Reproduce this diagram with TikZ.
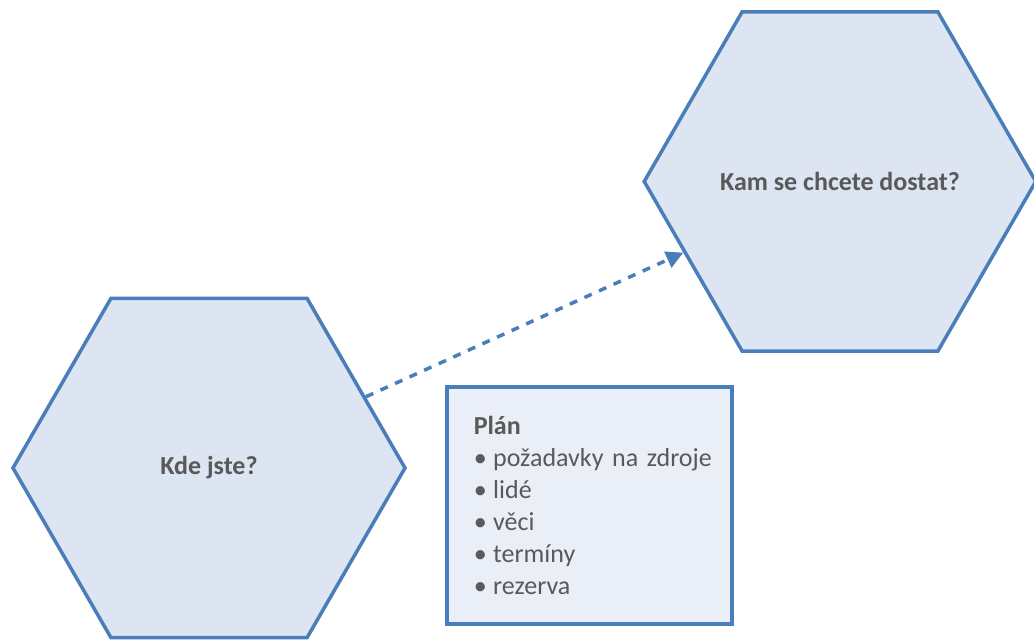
\documentclass[tikz,border=0pt]{standalone}
\usepackage{fontspec}
\setmainfont{Carlito}
\usetikzlibrary{shapes.geometric,arrows.meta}
\definecolor{edgeblue}{HTML}{4A7EBB}
\definecolor{hexfill}{HTML}{DCE5F1}
\definecolor{boxfill}{HTML}{EAEFF7}
\definecolor{txtgrey}{HTML}{595959}
\newcommand{\blt}[1]{\mbox{•\hspace{0.25em}#1}}
\tikzset{
  hexnode/.style={regular polygon, regular polygon sides=6, draw=edgeblue, fill=hexfill,
    line width=3.5pt, inner sep=0pt, text=txtgrey, font=\fontsize{26}{32}\selectfont\bfseries},
  planbox/.style={draw=edgeblue, fill=boxfill, line width=3.5pt, anchor=north west,
    minimum width=285pt, minimum height=237pt, text width=231pt, inner xsep=27pt,
    inner ysep=0pt, align=left, text=txtgrey, font=\fontsize{26}{32}\selectfont}, 
  flow/.style={draw=edgeblue, line width=3.5pt, dash pattern=on 8pt off 8pt,
    -{Triangle[length=17pt,width=17pt]}}
}
\begin{document}
\begin{tikzpicture}[x=1pt,y=-1pt]
\useasboundingbox (0,0) rectangle (1034,640);
\node[hexnode, minimum size=392pt] (here) at (209,468) {Kde jste?};
\node[hexnode, minimum size=386pt] (goal) at (840,181.5) {Kam se chcete dostat?};
\node[planbox] (plan) at (445,385) {\textbf{Plán}\\
\blt{požadavky na zdroje}\\
\blt{lidé}\\
\blt{věci}\\
\blt{termíny}\\
\blt{rezerva}};
\draw[flow] (here) -- (goal);
\end{tikzpicture}
\end{document}
